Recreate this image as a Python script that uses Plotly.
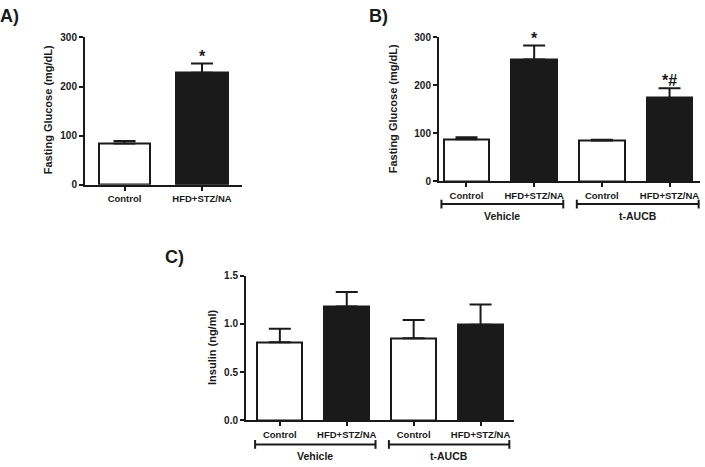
import plotly.graph_objects as go

# ---------------- data ----------------
cats_a = ["Control", "HFD+STZ/NA"]
glucose_a = [84, 228]
glucose_a_err = [5, 19]
sig_a = ["", "*"]

cats_b = ["Control", "HFD+STZ/NA", "Control", "HFD+STZ/NA"]
groups = ["Vehicle", "t-AUCB"]
glucose_b = [88, 254, 85, 174]
glucose_b_err = [4, 29, 2, 20]
sig_b = ["", "*", "", "*#"]

insulin_c = [0.81, 1.18, 0.85, 0.99]
insulin_c_err = [0.14, 0.15, 0.19, 0.21]

fills_a = ["white", "#1a1a1a"]
fills_b = ["white", "#1a1a1a", "white", "#1a1a1a"]

W, H = 705, 467
FONT = "Arial"
BLACK = "#1a1a1a"


def px(x):
    return x / W


def py(y):
    return 1 - y / H


fig = go.Figure()


def add_bars(vals, errs, fills, xa, ya):
    xs = list(range(len(vals)))
    fig.add_trace(go.Bar(
        x=xs, y=vals, width=0.67,
        marker=dict(color=fills, line=dict(color=BLACK, width=2)),
        error_y=dict(type="data", array=errs, arrayminus=[0] * len(errs),
                     symmetric=False, color=BLACK, thickness=2, width=11),
        xaxis=xa, yaxis=ya, showlegend=False, hoverinfo="skip",
    ))


add_bars(glucose_a, glucose_a_err, fills_a, "x", "y")
add_bars(glucose_b, glucose_b_err, fills_b, "x2", "y2")
add_bars(insulin_c, insulin_c_err, fills_b, "x3", "y3")

tickfont = dict(family=FONT, size=10, color=BLACK, weight="bold")
catfont = dict(family=FONT, size=9.5, color=BLACK, weight="bold")


def xaxis(domain, rng, cats):
    return dict(domain=domain, range=rng, showline=True, linecolor=BLACK,
                linewidth=2, ticks="outside", ticklen=4, tickwidth=1.5,
                tickcolor=BLACK, tickvals=list(range(len(cats))), ticktext=cats,
                tickfont=catfont, showgrid=False, zeroline=False, fixedrange=True)


def yaxis(domain, rng, dtick, anchor, fmt=None):
    d = dict(domain=domain, range=rng, showline=True, linecolor=BLACK,
             linewidth=2, ticks="outside", ticklen=4, tickwidth=1.5,
             tickcolor=BLACK, dtick=dtick, tick0=0, tickfont=tickfont,
             showgrid=False, zeroline=False, anchor=anchor)
    if fmt:
        d["tickformat"] = fmt
    return d


fig.update_layout(
    width=W, height=H, margin=dict(l=0, r=0, t=0, b=0),
    paper_bgcolor="white", plot_bgcolor="white", bargap=0,
    xaxis=dict(**xaxis([px(85), px(242)], [-0.51, 1.516], cats_a), anchor="y"),
    yaxis=yaxis([py(183.5), py(32.3)], [0, 300], 100, "x"),
    xaxis2=dict(**xaxis([px(439), px(700)], [-0.406, 3.45], cats_b), anchor="y2"),
    yaxis2=yaxis([py(180), py(32.3)], [0, 300], 100, "x2"),
    xaxis3=dict(**xaxis([px(246), px(514)], [-0.506, 3.5], cats_b), anchor="y3"),
    yaxis3=yaxis([py(425.3), py(276.7)], [0, 1.5], 0.5, "x3", ".1f"),
)

ann = []
# panel letters
for t, x, y in [("A)", 9, 10), ("B)", 378, 10), ("C)", 174, 258)]:
    ann.append(dict(text=t, x=px(x), y=py(y), xref="paper", yref="paper",
                    xanchor="center", yanchor="middle",
                    showarrow=False, font=dict(family=FONT, size=18, color=BLACK, weight="bold")))
# y titles
for t, x, y in [("Fasting Glucose (mg/dL)", 48, 107), ("Fasting Glucose (mg/dL)", 393, 106),
                ("Insulin (ng/ml)", 212, 351)]:
    ann.append(dict(text=t, x=px(x), y=py(y), xref="paper", yref="paper", textangle=-90,
                    xanchor="center", yanchor="middle",
                    showarrow=False, font=dict(family=FONT, size=11, color=BLACK, weight="bold")))

# significance markers
for xa, ya, vals, errs, sigs in [("x", "y", glucose_a, glucose_a_err, sig_a),
                                 ("x2", "y2", glucose_b, glucose_b_err, sig_b)]:
    for i, s in enumerate(sigs):
        if s:
            ann.append(dict(text=s, x=i, y=vals[i] + errs[i], xref=xa, yref=ya,
                            xanchor="center", yanchor="bottom", showarrow=False, yshift=-3,
                            font=dict(family=FONT, size=16, color=BLACK, weight="bold")))

# group brackets and labels
shapes = []
for xa, yb, yl in [("x2", 203.3, 215.7), ("x3", 450, 461.7)]:
    for g, name in enumerate(groups):
        c = 2 * g + 0.5 + 0.03
        x0, x1 = c - 0.9, c + 0.9
        shapes.append(dict(type="line", xref=xa, yref="paper", x0=x0, x1=x1,
                           y0=py(yb), y1=py(yb), line=dict(color=BLACK, width=2)))
        for xe in (x0, x1):
            shapes.append(dict(type="line", xref=xa, yref="paper", x0=xe, x1=xe,
                               y0=py(yb - 4.5), y1=py(yb + 4.5), line=dict(color=BLACK, width=2)))
        ann.append(dict(text=name, x=c, y=py(yl), xref=xa, yref="paper", showarrow=False,
                        xanchor="center", yanchor="middle",
                        font=dict(family=FONT, size=10.5, color=BLACK, weight="bold")))

fig.update_layout(annotations=ann, shapes=shapes)
fig.write_html("out.html", config={"displayModeBar": False},
               post_script="document.body.style.margin='0';document.body.style.padding='0';")
